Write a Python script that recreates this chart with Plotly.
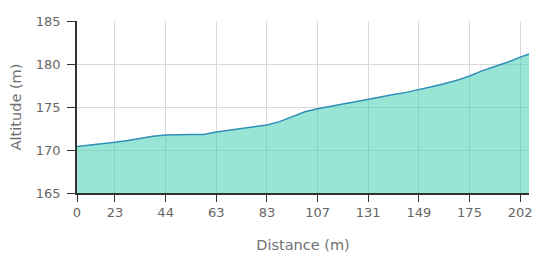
import plotly.graph_objects as go

# Tick labels on the category (point index) axis
tick_labels = ["0", "23", "44", "63", "83", "107", "131", "149", "175", "202"]
tick_index = [0, 3, 7, 11, 15, 19, 23, 27, 31, 35]

# Altitude per sampled point (m)
altitude = [170.4, 170.55, 170.7, 170.9, 171.1, 171.35, 171.6, 171.75, 171.8, 171.8,
            171.8, 172.1, 172.3, 172.5, 172.7, 172.9, 173.3, 173.9, 174.45, 174.8,
            175.1, 175.35, 175.6, 175.9, 176.2, 176.45, 176.7, 177.0, 177.35, 177.7,
            178.1, 178.6, 179.2, 179.7, 180.2, 180.8, 181.3]
point_index = list(range(len(altitude)))

y_ticks = [165, 170, 175, 180, 185]

fig = go.Figure()
fig.add_trace(go.Scatter(
    x=point_index, y=altitude, mode="lines",
    line=dict(color="#2f8fb8", width=1.5),
    fill="tozeroy", fillcolor="rgba(60,205,175,0.52)",
    hoverinfo="skip",
))

FONT = "DejaVu Sans, Verdana, sans-serif"
GRAY = "#666666"
TITLE_GRAY = "#707070"

# page body has an 8px default margin, so the figure is sized to fit the window
fig.update_layout(
    width=535, height=245,
    margin=dict(l=69, r=14, t=13, b=60, autoexpand=False),
    paper_bgcolor="white", plot_bgcolor="white",
    showlegend=False,
    font=dict(family=FONT, size=13, color=GRAY),
    xaxis=dict(
        range=[0, 35.7],
        tickmode="array", tickvals=tick_index, ticktext=tick_labels,
        showgrid=True, gridcolor="#d9d9d9", gridwidth=1,
        showline=True, linecolor="#333333", linewidth=1.5,
        ticks="outside", ticklen=7, tickcolor="#333333",
        zeroline=False,
        title=dict(text="Distance (m)", font=dict(size=14.5, color=TITLE_GRAY), standoff=21),
        tickfont=dict(size=13, color=GRAY),
        automargin=False,
    ),
    yaxis=dict(
        range=[165, 185],
        tickmode="array", tickvals=y_ticks,
        showgrid=True, gridcolor="#d9d9d9", gridwidth=1,
        showline=True, linecolor="#333333", linewidth=1.5,
        ticks="outside", ticklen=8, tickcolor="#333333",
        zeroline=False,
        ticklabelstandoff=4,
        title=dict(text="Altitude (m)", font=dict(size=14.5, color=TITLE_GRAY), standoff=12),
        tickfont=dict(size=13, color=GRAY),
        automargin=False,
    ),
)

fig.write_html("out.html")
